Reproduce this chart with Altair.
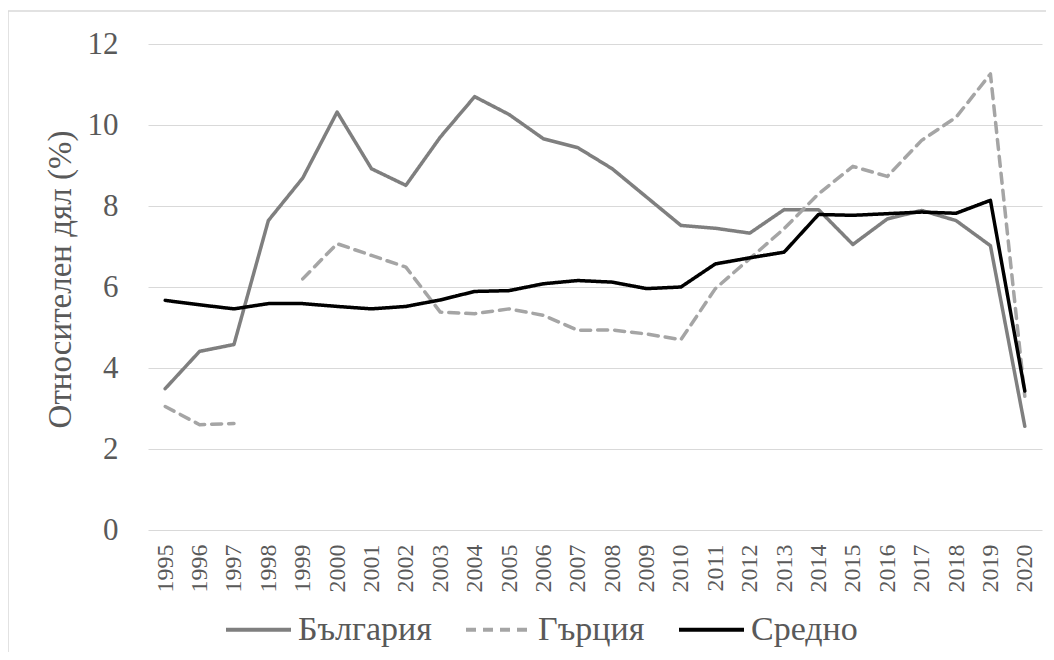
import altair as alt
import pandas as pd

years = [str(y) for y in range(1995, 2021)]
bulgaria = [3.49, 4.41, 4.58, 7.64, 8.69, 10.32, 8.92, 8.51, 9.70, 10.70, 10.26, 9.66, 9.44,
            8.92, 8.22, 7.52, 7.45, 7.33, 7.91, 7.91, 7.05, 7.68, 7.89, 7.64, 7.02, 2.56]
greece = [3.05, 2.60, 2.63, None, 6.20, 7.07, 6.78, 6.49, 5.38, 5.34, 5.46, 5.30, 4.93,
          4.94, 4.84, 4.70, 5.96, 6.70, 7.44, 8.30, 8.98, 8.73, 9.62, 10.19, 11.26, 3.30]
average = [5.67, 5.56, 5.46, 5.59, 5.59, 5.52, 5.46, 5.52, 5.68, 5.89, 5.91, 6.08, 6.16,
           6.12, 5.96, 6.00, 6.57, 6.72, 6.86, 7.79, 7.77, 7.81, 7.85, 7.82, 8.14, 3.43]

series_names = ["България", "Гърция", "Средно"]
series_colors = ["#7f7f7f", "#a5a5a5", "#000000"]
series_dash = [[1, 0], [10, 7], [1, 0]]

rows = []
for name, vals in zip(series_names, [bulgaria, greece, average]):
    seg = 0
    for y, v in zip(years, vals):
        if v is None:
            seg += 1
            continue
        rows.append({"year": y, "value": v, "series": name, "seg": f"{name}-{seg}"})
df = pd.DataFrame(rows)

W, H = 894, 486
FONT = "Liberation Serif"
TXT = "#595959"

legend_kw = dict(title=None, orient="none", direction="horizontal",
                 legendX=76, legendY=551, columnPadding=26,
                 symbolType="stroke", symbolSize=4225,
                 symbolStrokeWidth=4, labelOffset=5,
                 labelFont=FONT, labelFontSize=34, labelColor=TXT)

lines = alt.Chart(df).mark_line(strokeWidth=3.5, strokeCap="round", strokeJoin="round").encode(
    x=alt.X("year:O", sort=years,
            scale=alt.Scale(type="point", padding=0.5),
            axis=alt.Axis(title=None, labelAngle=-90, labelPadding=14, ticks=False, tickSize=0,
                          domain=False, grid=False, labelFontSize=24, labelColor=TXT,
                          labelFont=FONT)),
    y=alt.Y("value:Q", scale=alt.Scale(domain=[0, 12], nice=False, zero=True),
            axis=alt.Axis(title="Относителен дял (%)", values=[0, 2, 4, 6, 8, 10, 12],
                          ticks=False, tickSize=0, domain=False, grid=True,
                          gridColor="#d9d9d9", gridWidth=1,
                          labelPadding=30, labelFontSize=31, labelColor=TXT, labelFont=FONT,
                          titleFont=FONT, titleFontSize=33, titleColor=TXT,
                          titleFontWeight="normal", titleAngle=270, titleAlign="center",
                          titleBaseline="middle", titleX=-88, titleY=235)),
    color=alt.Color("series:N", sort=series_names,
                    scale=alt.Scale(domain=series_names, range=series_colors),
                    legend=alt.Legend(**legend_kw)),
    strokeDash=alt.StrokeDash("series:N", sort=series_names,
                              scale=alt.Scale(domain=series_names, range=series_dash),
                              legend=alt.Legend(**legend_kw)),
    detail="seg:N",
)

border = alt.Chart(pd.DataFrame({"a": [0]})).mark_rect(
    fill="transparent", stroke="#d9d9d9", strokeWidth=1.5
).encode(
    x=alt.value(-140), x2=alt.value(W + 20), y=alt.value(-33), y2=alt.value(H + 200)
)

chart = alt.layer(border, lines).properties(
    width=W, height=H,
    autosize=alt.AutoSizeParams(type="none"),
    padding={"left": 140, "top": 36, "right": 4, "bottom": 122},
    background="white",
).configure_view(stroke=None)

chart.save("out.html", embed_options={"renderer": "svg", "actions": False})
